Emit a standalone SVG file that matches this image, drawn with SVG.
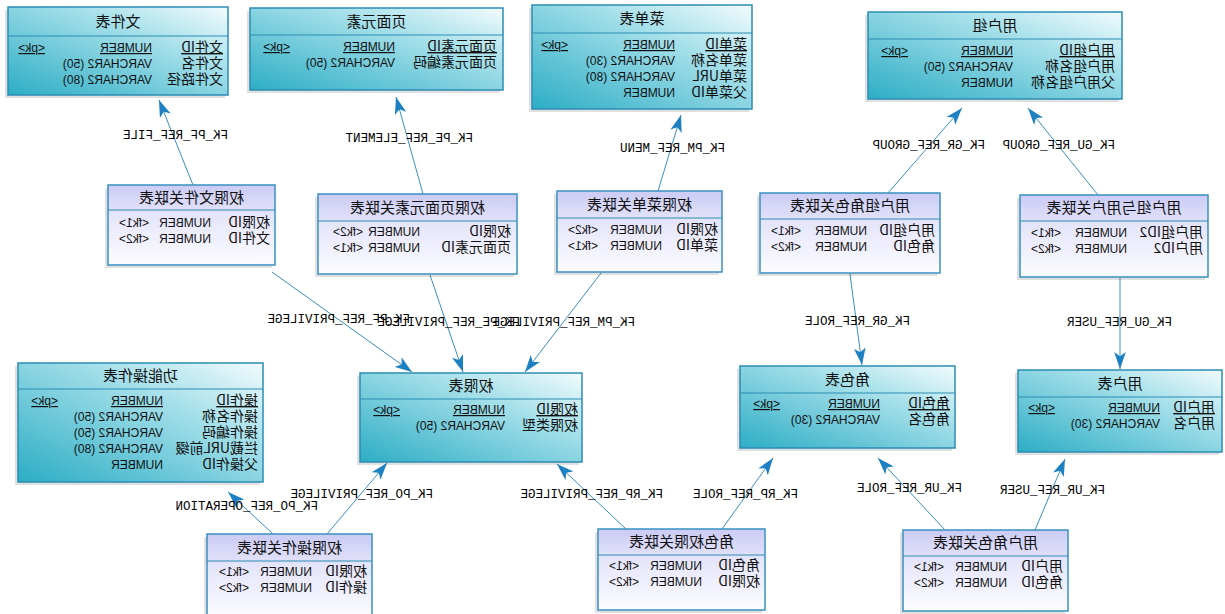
<svg xmlns="http://www.w3.org/2000/svg" width="1225" height="614" viewBox="0 0 1225 614">
<style>
.ent{fill:url(#gEnt);stroke:#2b8db4;stroke-width:1.5}
.asc{fill:url(#gAsc);stroke:#3a91c0;stroke-width:1.5}
.sh{fill:#000;opacity:0.12}
.sep{stroke:#2b8db4;stroke-width:1}
.t{font-family:"Noto Sans CJK SC",sans-serif;font-size:15px;text-anchor:middle;fill:#111}
.n{font-family:"Noto Sans CJK SC",sans-serif;font-size:14px;fill:#111}
.ty,.k{font-family:"Liberation Sans",sans-serif;font-size:12px;fill:#111}
.u{text-decoration:underline}
.c{stroke:#3a8fbf;stroke-width:1;fill:none;marker-end:url(#arr)}
.l{font-family:"Liberation Mono",monospace;font-size:12.5px;fill:#000}
</style>
<defs>
<linearGradient id="gEnt" x1="0" y1="0" x2="1" y2="1">
<stop offset="0" stop-color="#f2fbfd"/>
<stop offset="0.35" stop-color="#a6e0ea"/>
<stop offset="1" stop-color="#2cadc5"/>
</linearGradient>
<linearGradient id="gAsc" x1="0" y1="0" x2="0" y2="1">
<stop offset="0" stop-color="#cbcbf5"/>
<stop offset="0.4" stop-color="#e6e6fb"/>
<stop offset="1" stop-color="#fcfcff"/>
</linearGradient>
<marker id="arr" markerUnits="userSpaceOnUse" markerWidth="17" markerHeight="12" viewBox="0 0 16 11" refX="16" refY="5.5" orient="auto">
<path d="M0,0 L16,5.5 L0,11 L4,5.5 z" fill="#1d80c3"/>
</marker>
</defs>
<g transform="matrix(-1 0 0 1 1225 0)">
<g id="connectors">
<line class="c" x1="1032" y1="185" x2="1066" y2="100"/>
<line class="c" x1="802" y1="194" x2="829" y2="97"/>
<line class="c" x1="567" y1="191" x2="544" y2="115"/>
<line class="c" x1="337" y1="193" x2="263" y2="108"/>
<line class="c" x1="127" y1="195" x2="197" y2="108"/>
<line class="c" x1="953" y1="272" x2="813" y2="372"/>
<line class="c" x1="795" y1="275" x2="762" y2="372"/>
<line class="c" x1="624" y1="273" x2="700" y2="372"/>
<line class="c" x1="375" y1="274" x2="363" y2="365"/>
<line class="c" x1="105" y1="278" x2="105" y2="369"/>
<line class="c" x1="952" y1="534" x2="997" y2="492"/>
<line class="c" x1="898" y1="534" x2="838" y2="463"/>
<line class="c" x1="599" y1="529" x2="668" y2="464"/>
<line class="c" x1="503" y1="529" x2="452" y2="458"/>
<line class="c" x1="280" y1="530" x2="347" y2="458"/>
<line class="c" x1="190" y1="530" x2="160" y2="459"/>
<text class="l" x="997" y="139">FK_PF_REF_FILE</text>
<text class="l" x="752" y="142">FK_PE_REF_ELEMENT</text>
<text class="l" x="500" y="152">FK_PM_REF_MENU</text>
<text class="l" x="240" y="149">FK_GR_REF_GROUP</text>
<text class="l" x="110" y="149">FK_GU_REF_GROUP</text>
<text class="l" x="815" y="323">FK_PF_REF_PRIVILEGE</text>
<text class="l" x="705" y="326">FK_PE_REF_PRIVILEGE</text>
<text class="l" x="590" y="326">FK_PM_REF_PRIVILEGE</text>
<text class="l" x="315" y="325">FK_GR_REF_ROLE</text>
<text class="l" x="53" y="326">FK_GU_REF_USER</text>
<text class="l" x="907" y="510">FK_PO_REF_OPERATION</text>
<text class="l" x="792" y="498">FK_PO_REF_PRIVILEGE</text>
<text class="l" x="562" y="498">FK_RP_REF_PRIVILEGE</text>
<text class="l" x="427" y="498">FK_RP_REF_ROLE</text>
<text class="l" x="263" y="492">FK_UR_REF_ROLE</text>
<text class="l" x="120" y="494">FK_UR_REF_USER</text>
</g>

<g id="n-file">
<rect class="sh" x="1000" y="10" width="220" height="88"/>
<rect class="ent" x="997" y="7" width="220" height="88"/>
<line class="sep" x1="997" y1="36" x2="1217" y2="36"/>
<text class="t" x="1107" y="27">文件表</text>
<text class="n u" x="1002" y="52">文件ID</text><text class="ty u" x="1073" y="52">NUMBER</text><text class="k u" x="1180" y="52">&lt;pk&gt;</text>
<text class="n" x="1002" y="68">文件名</text><text class="ty" x="1073" y="68">VARCHAR2 (50)</text>
<text class="n" x="1002" y="84">文件路径</text><text class="ty" x="1073" y="84">VARCHAR2 (80)</text>
</g>

<g id="n-element">
<rect class="sh" x="725" y="11" width="253" height="82"/>
<rect class="ent" x="722" y="8" width="253" height="82"/>
<line class="sep" x1="722" y1="35" x2="975" y2="35"/>
<text class="t" x="848.5" y="27">页面元素</text>
<text class="n u" x="728" y="51">页面元素ID</text><text class="ty u" x="830" y="51">NUMBER</text><text class="k u" x="935" y="51">&lt;pk&gt;</text>
<text class="n" x="728" y="67">页面元素编码</text><text class="ty" x="830" y="67">VARCHAR2 (50)</text>
</g>

<g id="n-menu">
<rect class="sh" x="476" y="8" width="220" height="104"/>
<rect class="ent" x="473" y="5" width="220" height="104"/>
<line class="sep" x1="473" y1="33" x2="693" y2="33"/>
<text class="t" x="583" y="24">菜单表</text>
<text class="n u" x="478" y="49">菜单ID</text><text class="ty u" x="550" y="49">NUMBER</text><text class="k u" x="657" y="49">&lt;pk&gt;</text>
<text class="n" x="478" y="65">菜单名称</text><text class="ty" x="550" y="65">VARCHAR2 (30)</text>
<text class="n" x="478" y="81">菜单URL</text><text class="ty" x="550" y="81">VARCHAR2 (80)</text>
<text class="n" x="478" y="97">父菜单ID</text><text class="ty" x="550" y="97">NUMBER</text>
</g>

<g id="n-group">
<rect class="sh" x="106" y="15" width="254" height="87"/>
<rect class="ent" x="103" y="12" width="254" height="87"/>
<line class="sep" x1="103" y1="39" x2="357" y2="39"/>
<text class="t" x="230" y="31">用户组</text>
<text class="n u" x="110" y="55">用户组ID</text><text class="ty u" x="212" y="55">NUMBER</text><text class="k u" x="317" y="55">&lt;pk&gt;</text>
<text class="n" x="110" y="71">用户组名称</text><text class="ty" x="212" y="71">VARCHAR2 (50)</text>
<text class="n" x="110" y="87">父用户组名称</text><text class="ty" x="212" y="87">NUMBER</text>
</g>

<g id="n-pf">
<rect class="sh" x="953" y="188" width="167" height="80"/>
<rect class="asc" x="950" y="185" width="167" height="80"/>
<line class="sep" x1="950" y1="210" x2="1117" y2="210"/>
<text class="t" x="1033.5" y="203">权限文件关联表</text>
<text class="n" x="955" y="227">权限ID</text><text class="ty" x="1014" y="227">NUMBER</text><text class="k" x="1076" y="227">&lt;fk1&gt;</text>
<text class="n" x="955" y="243">文件ID</text><text class="ty" x="1014" y="243">NUMBER</text><text class="k" x="1076" y="243">&lt;fk2&gt;</text>
</g>

<g id="n-pe">
<rect class="sh" x="711" y="197" width="199" height="80"/>
<rect class="asc" x="708" y="194" width="199" height="80"/>
<line class="sep" x1="708" y1="221" x2="907" y2="221"/>
<text class="t" x="807.5" y="213">权限页面元素关联表</text>
<text class="n" x="714" y="236">权限ID</text><text class="ty" x="805" y="236">NUMBER</text><text class="k" x="862" y="236">&lt;fk2&gt;</text>
<text class="n" x="714" y="252">页面元素ID</text><text class="ty" x="805" y="252">NUMBER</text><text class="k" x="862" y="252">&lt;fk1&gt;</text>
</g>

<g id="n-pm">
<rect class="sh" x="506" y="194" width="165" height="81"/>
<rect class="asc" x="503" y="191" width="165" height="81"/>
<line class="sep" x1="503" y1="218" x2="668" y2="218"/>
<text class="t" x="585.5" y="210">权限菜单关联表</text>
<text class="n" x="507" y="234">权限ID</text><text class="ty" x="563" y="234">NUMBER</text><text class="k" x="627" y="234">&lt;fk2&gt;</text>
<text class="n" x="507" y="250">菜单ID</text><text class="ty" x="563" y="250">NUMBER</text><text class="k" x="627" y="250">&lt;fk1&gt;</text>
</g>

<g id="n-gr">
<rect class="sh" x="288" y="196" width="180" height="80"/>
<rect class="asc" x="285" y="193" width="180" height="80"/>
<line class="sep" x1="285" y1="219" x2="465" y2="219"/>
<text class="t" x="375" y="211">用户组角色关联表</text>
<text class="n" x="290" y="235">用户组ID</text><text class="ty" x="358" y="235">NUMBER</text><text class="k" x="424" y="235">&lt;fk1&gt;</text>
<text class="n" x="290" y="251">角色ID</text><text class="ty" x="358" y="251">NUMBER</text><text class="k" x="424" y="251">&lt;fk2&gt;</text>
</g>

<g id="n-gu">
<rect class="sh" x="20" y="198" width="188" height="82"/>
<rect class="asc" x="17" y="195" width="188" height="82"/>
<line class="sep" x1="17" y1="221" x2="205" y2="221"/>
<text class="t" x="111" y="213">用户组与用户关联表</text>
<text class="n" x="22" y="237">用户组ID2</text><text class="ty" x="98" y="237">NUMBER</text><text class="k" x="164" y="237">&lt;fk1&gt;</text>
<text class="n" x="22" y="253">用户ID2</text><text class="ty" x="98" y="253">NUMBER</text><text class="k" x="164" y="253">&lt;fk2&gt;</text>
</g>

<g id="n-op">
<rect class="sh" x="965" y="366" width="245" height="119"/>
<rect class="ent" x="962" y="363" width="245" height="119"/>
<line class="sep" x1="962" y1="389" x2="1207" y2="389"/>
<text class="t" x="1084.5" y="381">功能操作表</text>
<text class="n u" x="967" y="405">操作ID</text><text class="ty u" x="1062" y="405">NUMBER</text><text class="k u" x="1167" y="405">&lt;pk&gt;</text>
<text class="n" x="967" y="421">操作名称</text><text class="ty" x="1062" y="421">VARCHAR2 (50)</text>
<text class="n" x="967" y="437">操作编码</text><text class="ty" x="1062" y="437">VARCHAR2 (50)</text>
<text class="n" x="967" y="453">拦截URL前缀</text><text class="ty" x="1062" y="453">VARCHAR2 (80)</text>
<text class="n" x="967" y="469">父操作ID</text><text class="ty" x="1062" y="469">NUMBER</text>
</g>

<g id="n-priv">
<rect class="sh" x="646" y="376" width="222" height="89"/>
<rect class="ent" x="643" y="373" width="222" height="89"/>
<line class="sep" x1="643" y1="399" x2="865" y2="399"/>
<text class="t" x="754" y="391">权限表</text>
<text class="n u" x="647" y="414">权限ID</text><text class="ty u" x="720" y="414">NUMBER</text><text class="k u" x="825" y="414">&lt;pk&gt;</text>
<text class="n" x="647" y="430">权限类型</text><text class="ty" x="720" y="430">VARCHAR2 (50)</text>
</g>

<g id="n-role">
<rect class="sh" x="273" y="369" width="215" height="82"/>
<rect class="ent" x="270" y="366" width="215" height="82"/>
<line class="sep" x1="270" y1="393" x2="485" y2="393"/>
<text class="t" x="377.5" y="385">角色表</text>
<text class="n u" x="275" y="408">角色ID</text><text class="ty u" x="345" y="408">NUMBER</text><text class="k u" x="445" y="408">&lt;pk&gt;</text>
<text class="n" x="275" y="424">角色名</text><text class="ty" x="345" y="424">VARCHAR2 (30)</text>
</g>

<g id="n-user">
<rect class="sh" x="6" y="373" width="204" height="82"/>
<rect class="ent" x="3" y="370" width="204" height="82"/>
<line class="sep" x1="3" y1="397" x2="207" y2="397"/>
<text class="t" x="105" y="389">用户表</text>
<text class="n u" x="10" y="412">用户ID</text><text class="ty u" x="65" y="412">NUMBER</text><text class="k u" x="170" y="412">&lt;pk&gt;</text>
<text class="n" x="10" y="428">用户名</text><text class="ty" x="65" y="428">VARCHAR2 (30)</text>
</g>

<g id="n-po">
<rect class="sh" x="856" y="537" width="165" height="85"/>
<rect class="asc" x="853" y="534" width="165" height="85"/>
<line class="sep" x1="853" y1="561" x2="1018" y2="561"/>
<text class="t" x="935.5" y="553">权限操作关联表</text>
<text class="n" x="858" y="576">权限ID</text><text class="ty" x="913" y="576">NUMBER</text><text class="k" x="976" y="576">&lt;fk1&gt;</text>
<text class="n" x="858" y="592">操作ID</text><text class="ty" x="913" y="592">NUMBER</text><text class="k" x="976" y="592">&lt;fk2&gt;</text>
</g>

<g id="n-rp">
<rect class="sh" x="463" y="532" width="167" height="81"/>
<rect class="asc" x="460" y="529" width="167" height="81"/>
<line class="sep" x1="460" y1="555" x2="627" y2="555"/>
<text class="t" x="543.5" y="547">角色权限关联表</text>
<text class="n" x="465" y="570">角色ID</text><text class="ty" x="523" y="570">NUMBER</text><text class="k" x="586" y="570">&lt;fk1&gt;</text>
<text class="n" x="465" y="586">权限ID</text><text class="ty" x="523" y="586">NUMBER</text><text class="k" x="586" y="586">&lt;fk2&gt;</text>
</g>

<g id="n-ur">
<rect class="sh" x="160" y="533" width="165" height="81"/>
<rect class="asc" x="157" y="530" width="165" height="81"/>
<line class="sep" x1="157" y1="556" x2="322" y2="556"/>
<text class="t" x="239.5" y="548">用户角色关联表</text>
<text class="n" x="162" y="571">用户ID</text><text class="ty" x="218" y="571">NUMBER</text><text class="k" x="281" y="571">&lt;fk1&gt;</text>
<text class="n" x="162" y="587">角色ID</text><text class="ty" x="218" y="587">NUMBER</text><text class="k" x="281" y="587">&lt;fk2&gt;</text>
</g>
</g>
</svg>
